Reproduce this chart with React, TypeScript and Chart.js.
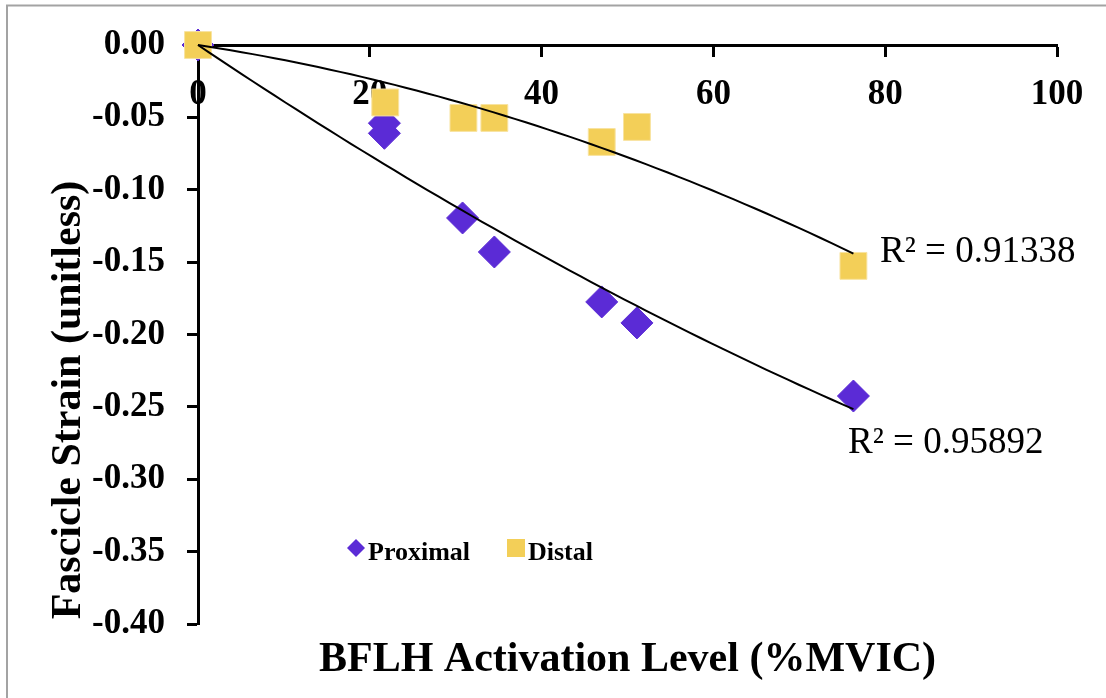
import React, { useEffect, useRef } from "react";
import { Chart, registerables } from "chart.js";

Chart.register(...registerables);

// ---- data ----
const proximalX = [0, 21.7, 21.7, 30.8, 34.5, 47.0, 51.1, 76.3];
const proximalY = [0, -0.054, -0.061, -0.1195, -0.143, -0.1775, -0.192, -0.2425];
const distalX = [0, 21.8, 30.9, 34.5, 47.0, 51.1, 76.3];
const distalY = [0, -0.0397, -0.0504, -0.0504, -0.067, -0.0566, -0.1526];
const xTicks = [0, 20, 40, 60, 80, 100];
const yTicks = [0, -0.05, -0.1, -0.15, -0.2, -0.25, -0.3, -0.35, -0.4];
const seriesNames = ["Proximal", "Distal"];
const r2Labels = ["R² = 0.95892", "R² = 0.91338"];
const xTitle = "BFLH Activation Level (%MVIC)";
const yTitle = "Fascicle Strain (unitless)";

const PURPLE = "#5B2BD6";
const YELLOW = "#F3CF58";
const SERIF = '"Liberation Serif", "Times New Roman", serif';

// quadratic least-squares fit through the origin (Excel trendline, intercept 0)
function fitQuadOrigin(xs: number[], ys: number[]) {
  let s2 = 0, s3 = 0, s4 = 0, sxy = 0, sx2y = 0;
  for (let i = 0; i < xs.length; i++) {
    const x = xs[i], y = ys[i];
    s2 += x * x; s3 += x * x * x; s4 += x * x * x * x;
    sxy += x * y; sx2y += x * x * y;
  }
  const det = s2 * s4 - s3 * s3;
  const a = (sxy * s4 - s3 * sx2y) / det;
  const b = (s2 * sx2y - s3 * sxy) / det;
  return { a, b };
}

function trendPoints(xs: number[], ys: number[]) {
  const { a, b } = fitQuadOrigin(xs, ys);
  const xMax = Math.max(...xs);
  const pts: { x: number; y: number }[] = [];
  const n = 60;
  for (let i = 0; i <= n; i++) {
    const x = (xMax * i) / n;
    pts.push({ x, y: a * x + b * x * x });
  }
  return pts;
}

const overlayPlugin = {
  id: "overlay",
  beforeDraw(chart: any) {
    const ctx = chart.ctx;
    ctx.save();
    ctx.fillStyle = "#ffffff";
    ctx.fillRect(0, 0, chart.width, chart.height);
    ctx.strokeStyle = "#a3a3a3";
    ctx.lineWidth = 2;
    ctx.beginPath();
    ctx.moveTo(7, chart.height);
    ctx.lineTo(7, 5.5);
    ctx.lineTo(chart.width, 5.5);
    ctx.stroke();
    ctx.restore();
  },
  afterDraw(chart: any) {
    const ctx = chart.ctx;
    const area = chart.chartArea;
    ctx.save();
    ctx.fillStyle = "#000";
    // axis titles
    ctx.font = `bold 42px ${SERIF}`;
    ctx.textAlign = "center";
    ctx.textBaseline = "alphabetic";
    ctx.fillText(xTitle, (area.left + area.right) / 2, 671);
    ctx.save();
    ctx.translate(80, 400);
    ctx.rotate(-Math.PI / 2);
    ctx.fillText(yTitle, 0, 0);
    ctx.restore();

    // R² labels
    ctx.font = `37px ${SERIF}`;
    ctx.textAlign = "left";
    ctx.fillText(r2Labels[1], 880, 262);
    ctx.fillText(r2Labels[0], 848, 453);

    // legend
    ctx.font = `bold 26px ${SERIF}`;
    ctx.fillStyle = PURPLE;
    ctx.beginPath();
    ctx.moveTo(347, 548);
    ctx.lineTo(356, 539);
    ctx.lineTo(365, 548);
    ctx.lineTo(356, 557);
    ctx.closePath();
    ctx.fill();
    ctx.fillStyle = "#000";
    ctx.fillText(seriesNames[0], 368, 560);
    ctx.fillStyle = YELLOW;
    ctx.fillRect(507, 539, 18, 18);
    ctx.fillStyle = "#000";
    ctx.fillText(seriesNames[1], 528, 560);
    ctx.restore();
  },
};

export default function App() {
  const canvasRef = useRef<HTMLCanvasElement | null>(null);

  useEffect(() => {
    document.body.style.margin = "0";
    const canvas = canvasRef.current;
    if (!canvas) return;

    const chart = new Chart(canvas, {
      type: "scatter",
      data: {
        datasets: [
          {
            label: "Proximal trend",
            data: trendPoints(proximalX, proximalY),
            showLine: true,
            borderColor: "#000",
            borderWidth: 2,
            pointRadius: 0,
            clip: false,
            order: 0,
          } as any,
          {
            label: "Distal trend",
            data: trendPoints(distalX, distalY),
            showLine: true,
            borderColor: "#000",
            borderWidth: 2,
            pointRadius: 0,
            clip: false,
            order: 0,
          } as any,
          {
            label: seriesNames[1],
            data: distalX.map((x, i) => ({ x, y: distalY[i] })),
            pointStyle: "rect",
            pointRadius: 19,
            backgroundColor: YELLOW,
            borderColor: "#F8E3A0",
            borderWidth: 1,
            clip: false,
            order: 1,
          } as any,
          {
            label: seriesNames[0],
            data: proximalX.map((x, i) => ({ x, y: proximalY[i] })),
            pointStyle: "rectRot",
            pointRadius: 16,
            backgroundColor: PURPLE,
            borderColor: PURPLE,
            borderWidth: 1,
            clip: false,
            order: 2,
          } as any,
        ],
      },
      options: {
        responsive: false,
        animation: false,
        devicePixelRatio: 1,
        layout: { padding: { left: 0, top: 45, right: 49, bottom: 74 } },
        plugins: {
          legend: { display: false },
          tooltip: { enabled: false },
        },
        scales: {
          x: {
            type: "linear",
            position: { y: 0 } as any,
            min: 0,
            max: 100,
            afterBuildTicks: (scale: any) => {
              scale.ticks = xTicks.map((v) => ({ value: v }));
            },
            ticks: {
              autoSkip: false,
              maxRotation: 0,
              padding: 19,
              color: "#000",
              font: { family: SERIF, size: 35, weight: "bold" },
            },
            grid: {
              drawOnChartArea: false,
              drawTicks: true,
              tickLength: 10,
              tickWidth: 3,
              tickColor: "#000",
            },
            border: { display: true, color: "#000", width: 3 },
          },
          y: {
            type: "linear",
            min: -0.4,
            max: 0,
            afterBuildTicks: (scale: any) => {
              scale.ticks = yTicks.map((v) => ({ value: v }));
            },
            afterFit: (scale: any) => {
              scale.width = 198;
            },
            ticks: {
              autoSkip: false,
              padding: 22,
              color: "#000",
              font: { family: SERIF, size: 35, weight: "bold" },
              callback: (v: any) => Number(v).toFixed(2),
            },
            grid: {
              drawOnChartArea: false,
              drawTicks: true,
              tickLength: 11,
              tickWidth: 3,
              tickColor: "#000",
            },
            border: { display: true, color: "#000", width: 3 },
          },
        },
      },
      plugins: [overlayPlugin],
    });

    return () => chart.destroy();
  }, []);

  return (
    <div style={{ width: 1106, height: 698 }}>
      <canvas ref={canvasRef} width={1106} height={698} style={{ display: "block" }} />
    </div>
  );
}
